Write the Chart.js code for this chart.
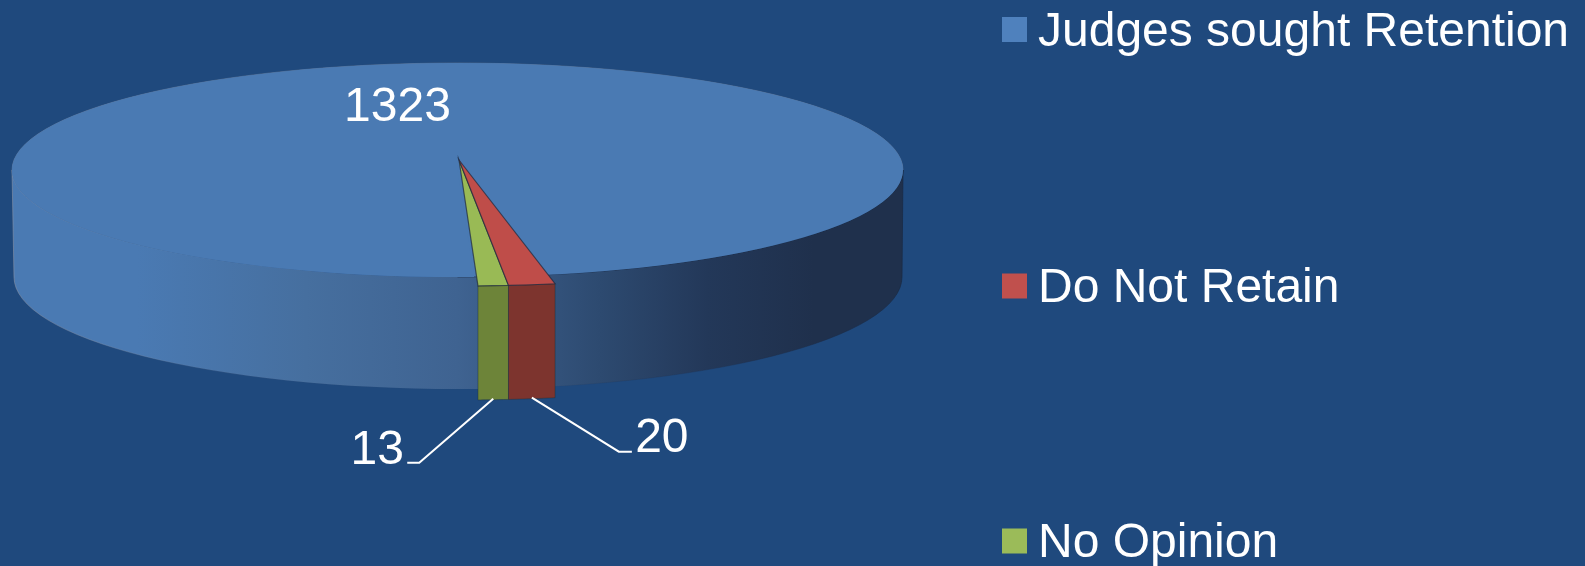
<!DOCTYPE html>
<html>
<head>
<meta charset="utf-8">
<style>
html,body{margin:0;padding:0;background:#1f497d;width:1585px;height:566px;overflow:hidden}
#wrap{position:absolute;left:0;top:0;width:1585px;height:566px}
canvas{display:block}
</style>
<script src="https://cdn.jsdelivr.net/npm/chart.js@4"></script>
</head>
<body>
<div id="wrap"><canvas id="c" width="1585" height="566"></canvas></div>
<script>
const categories = ["Judges sought Retention", "Do Not Retain", "No Opinion"];
const values = [1323, 20, 13];
const faceColors = ["#4a7ab3", "#bf4d49", "#99ba55"];
const sideColors = ["#3f6493", "#7d342e", "#6d8439"];
const legendColors = ["#4f81bd", "#c0504d", "#9bbb59"];

const FONT = '48px "Liberation Sans", Arial, sans-serif';
const disc = {cx: 457.5, cy: 170, rx: 445.5, ry: 107};
const base = {cx: 458, cy: 277, rx: 444, ry: 112};
const wedge = {cx: 459, cy: 160, rx: 508, ry: 126, depth: 114};

function mapTo(ctx, el, g) {
  const R = el.outerRadius;
  ctx.translate(g.cx, g.cy);
  ctx.scale(g.rx / R, g.ry / R);
  ctx.translate(-el.x, -el.y);
}
function rimPoints(el, g) {
  const pts = [], n = 12;
  for (let i = 0; i <= n; i++) {
    const a = el.startAngle + (el.endAngle - el.startAngle) * i / n;
    pts.push([g.cx + g.rx * Math.cos(a), g.cy + g.ry * Math.sin(a)]);
  }
  return pts;
}

const pie3d = {
  id: "pie3d",
  beforeDatasetDraw(chart, args) {
    const ctx = chart.ctx;
    const arcs = chart.getDatasetMeta(args.index).data;

    // outer wall of the disc
    const grad = ctx.createLinearGradient(disc.cx - disc.rx, 0, disc.cx + disc.rx, 0);
    grad.addColorStop(0, "#4a7ab3");
    grad.addColorStop(0.14, "#4a7ab3");
    grad.addColorStop(0.33, "#466f9f");
    grad.addColorStop(0.5, "#3f6391");
    grad.addColorStop(0.66, "#2d4a70");
    grad.addColorStop(0.78, "#233859");
    grad.addColorStop(0.9, "#1f304c");
    grad.addColorStop(1, "#1f304c");
    const edge = ctx.createLinearGradient(disc.cx - disc.rx, 0, disc.cx + disc.rx, 0);
    edge.addColorStop(0, "rgba(135,145,165,0.6)");
    edge.addColorStop(0.2, "rgba(135,145,165,0.15)");
    edge.addColorStop(0.55, "rgba(40,55,85,0)");
    edge.addColorStop(1, "rgba(25,40,65,0.7)");
    ctx.save();
    ctx.beginPath();
    ctx.ellipse(disc.cx, disc.cy, disc.rx, disc.ry, 0, 0, Math.PI);
    ctx.ellipse(base.cx, base.cy, base.rx, base.ry, 0, Math.PI, 0, true);
    ctx.closePath();
    ctx.fillStyle = grad;
    ctx.fill();
    ctx.strokeStyle = edge;
    ctx.lineWidth = 1;
    ctx.stroke();
    ctx.restore();

    // top face under the big slice, then the big slice itself
    ctx.save();
    ctx.beginPath();
    ctx.ellipse(disc.cx, disc.cy, disc.rx, disc.ry, 0, 0, Math.PI * 2);
    ctx.fillStyle = faceColors[0];
    ctx.fill();
    ctx.beginPath();
    ctx.ellipse(disc.cx, disc.cy, disc.rx, disc.ry, 0, Math.PI, Math.PI * 2);
    ctx.strokeStyle = "rgba(125,135,155,0.45)";
    ctx.lineWidth = 1;
    ctx.stroke();
    ctx.beginPath();
    ctx.ellipse(disc.cx, disc.cy, disc.rx, disc.ry, 0, 0, Math.PI / 2);
    ctx.strokeStyle = "rgba(25,40,65,0.6)";
    ctx.stroke();
    mapTo(ctx, arcs[0], disc);
    arcs[0].draw(ctx);
    ctx.restore();

    // small pulled-out slices
    for (let i = arcs.length - 1; i >= 1; i--) {
      const el = arcs[i];
      const rim = rimPoints(el, wedge);
      ctx.save();
      ctx.beginPath();
      rim.forEach((p, k) => k ? ctx.lineTo(p[0], p[1]) : ctx.moveTo(p[0], p[1]));
      rim.slice().reverse().forEach(p => ctx.lineTo(p[0], p[1] + wedge.depth));
      ctx.closePath();
      ctx.fillStyle = sideColors[i];
      ctx.fill();
      ctx.strokeStyle = "rgba(30,50,60,0.45)";
      ctx.lineWidth = 1;
      ctx.stroke();
      ctx.restore();

      ctx.save();
      mapTo(ctx, el, wedge);
      el.draw(ctx);
      ctx.beginPath();
      ctx.moveTo(el.x, el.y);
      ctx.arc(el.x, el.y, el.outerRadius, el.startAngle, el.endAngle);
      ctx.closePath();
      ctx.setTransform(chart.currentDevicePixelRatio, 0, 0, chart.currentDevicePixelRatio, 0, 0);
      ctx.strokeStyle = "rgba(30,40,60,0.7)";
      ctx.lineWidth = 1.2;
      ctx.stroke();
      ctx.restore();
    }
    return false;
  },
  afterDraw(chart) {
    const ctx = chart.ctx;
    const arcs = chart.getDatasetMeta(0).data;
    ctx.save();
    ctx.font = FONT;
    ctx.fillStyle = "#ffffff";
    ctx.textBaseline = "middle";

    // value labels and leader lines
    ctx.textAlign = "center";
    ctx.fillText(String(values[0]), disc.cx - 60, disc.cy - 62);
    const leaders = [null,
      {elbow: [87, 54], end: [100, 54], text: [130, 41]},
      {elbow: [-74, 64], end: [-86, 64], text: [-116, 52]}];
    for (let i = 1; i < arcs.length; i++) {
      const mid = (arcs[i].startAngle + arcs[i].endAngle) / 2;
      const ax = wedge.cx + wedge.rx * Math.cos(mid);
      const ay = wedge.cy + wedge.ry * Math.sin(mid) + wedge.depth - 1;
      const L = leaders[i];
      ctx.beginPath();
      ctx.moveTo(ax, ay);
      ctx.lineTo(ax + L.elbow[0], ay + L.elbow[1]);
      ctx.lineTo(ax + L.end[0], ay + L.end[1]);
      ctx.strokeStyle = "#ffffff";
      ctx.lineWidth = 2;
      ctx.stroke();
      ctx.fillText(String(values[i]), ax + L.text[0], ay + L.text[1]);
    }

    // legend
    ctx.textAlign = "left";
    const rowY = [29.5, 286, 541];
    categories.forEach((name, i) => {
      ctx.fillStyle = legendColors[i];
      ctx.fillRect(1002, rowY[i] - 12.5, 25, 25);
      ctx.fillStyle = "#ffffff";
      ctx.fillText(name, 1038, rowY[i] + 3);
    });
    ctx.restore();
  }
};

new Chart(document.getElementById("c"), {
  type: "pie",
  data: {
    labels: categories,
    datasets: [{data: values, backgroundColor: faceColors, borderWidth: 0}]
  },
  options: {
    responsive: false,
    animation: false,
    rotation: 177.86,
    events: [],
    devicePixelRatio: 1,
    plugins: {legend: {display: false}, tooltip: {enabled: false}}
  },
  plugins: [pie3d]
});
</script>
</body>
</html>
